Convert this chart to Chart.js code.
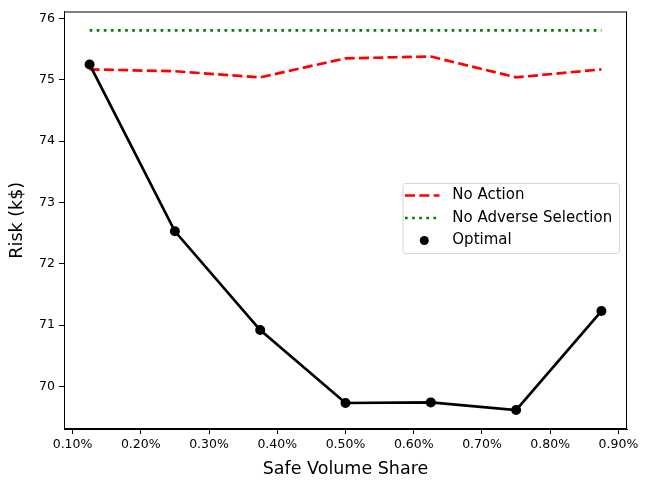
<!DOCTYPE html>
<html>
<head>
<meta charset="utf-8">
<script src="https://cdn.jsdelivr.net/npm/chart.js@4.4.1/dist/chart.umd.min.js"></script>
<style>
  html, body { margin: 0; padding: 0; background: #fff; }
  #wrap { width: 648px; height: 489px; position: relative; }
</style>
</head>
<body>
<div id="wrap"><canvas id="chart"></canvas></div>
<script>
// safe volume share (%) and risk (k$)
const shares = [0.125, 0.25, 0.375, 0.5, 0.625, 0.75, 0.875];
const noAction = [75.17, 75.14, 75.04, 75.35, 75.38, 75.04, 75.17];
const noAdverse = [75.805, 75.805, 75.805, 75.805, 75.805, 75.805, 75.805];
const optimal = [75.25, 72.53, 70.92, 69.73, 69.74, 69.615, 71.23];
const xTicks = [0.1, 0.2, 0.3, 0.4, 0.5, 0.6, 0.7, 0.8, 0.9];
const yTicks = [70, 71, 72, 73, 74, 75, 76];

const FONT = "'DejaVu Sans', 'Liberation Sans', sans-serif";
const pts = arr => arr.map((v, i) => ({x: shares[i], y: v}));

// matplotlib style legend box inside the plot
const legendBox = {
  id: 'legendBox',
  afterDraw(chart) {
    const ctx = chart.ctx;
    const x = 403, y = 183.5, w = 216.5, h = 70, r = 3;
    ctx.save();
    ctx.beginPath();
    ctx.moveTo(x + r, y);
    ctx.arcTo(x + w, y, x + w, y + h, r);
    ctx.arcTo(x + w, y + h, x, y + h, r);
    ctx.arcTo(x, y + h, x, y, r);
    ctx.arcTo(x, y, x + w, y, r);
    ctx.closePath();
    ctx.fillStyle = 'rgba(255,255,255,0.8)';
    ctx.fill();
    ctx.strokeStyle = '#d6d6d6';
    ctx.lineWidth = 1;
    ctx.stroke();

    const rows = [
      {label: 'No Action', color: '#ff0000', dash: [10, 4.3], y: 195.5},
      {label: 'No Adverse Selection', color: '#008000', dash: [2.7, 4.4], y: 218},
      {label: 'Optimal', color: '#000000', marker: true, y: 240.5}
    ];
    rows.forEach(row => {
      if (row.marker) {
        ctx.beginPath();
        ctx.arc(424.3, row.y, 4.5, 0, Math.PI * 2);
        ctx.fillStyle = row.color;
        ctx.fill();
      } else {
        ctx.beginPath();
        ctx.setLineDash(row.dash);
        ctx.lineCap = 'butt';
        ctx.strokeStyle = row.color;
        ctx.lineWidth = 2.7;
        ctx.moveTo(405, row.y);
        ctx.lineTo(439.5, row.y);
        ctx.stroke();
        ctx.setLineDash([]);
      }
      ctx.fillStyle = '#000';
      ctx.font = '15px ' + FONT;
      ctx.textBaseline = 'middle';
      ctx.textAlign = 'left';
      ctx.fillText(row.label, 452.3, row.y);
    });
    ctx.restore();
  }
};

new Chart(document.getElementById('chart').getContext('2d'), {
  type: 'line',
  data: {
    datasets: [
      {
        label: 'Optimal', data: pts(optimal), order: 0,
        borderColor: '#000', backgroundColor: '#000', borderWidth: 2.7,
        pointRadius: 5, pointHoverRadius: 5, pointBorderWidth: 0, tension: 0, fill: false
      },
      {
        label: 'No Action', data: pts(noAction), order: 1,
        borderColor: '#ff0000', borderWidth: 2.7, borderDash: [10, 4.3],
        pointRadius: 0, tension: 0, fill: false
      },
      {
        label: 'No Adverse Selection', data: pts(noAdverse), order: 2,
        borderColor: '#008000', borderWidth: 2.7, borderDash: [2.7, 4.4],
        pointRadius: 0, tension: 0, fill: false
      }
    ]
  },
  options: {
    responsive: true, maintainAspectRatio: false, animation: false,
    devicePixelRatio: 1,
    layout: {padding: {left: 0, right: 21, top: 9, bottom: 0}},
    scales: {
      x: {
        type: 'linear', min: 0.0875, max: 0.9125,
        afterBuildTicks: s => { s.ticks = xTicks.map(v => ({value: v})); },
        afterFit: s => { s.height = 60; },
        grid: {drawOnChartArea: false, drawTicks: true, tickLength: 5, color: '#000', tickColor: '#000'},
        border: {display: true, color: '#000', width: 1},
        ticks: {color: '#000', font: {family: FONT, size: 12.5}, padding: 3, maxRotation: 0,
                callback: v => v.toFixed(2) + '%'},
        title: {display: true, text: 'Safe Volume Share', color: '#000',
                font: {family: FONT, size: 17.5}, padding: {top: 0, bottom: 9}}
      },
      y: {
        type: 'linear', min: 69.306, max: 76.114,
        afterBuildTicks: s => { s.ticks = yTicks.map(v => ({value: v})); },
        afterFit: s => { s.width = 64; },
        grid: {drawOnChartArea: false, drawTicks: true, tickLength: 5, color: '#000', tickColor: '#000'},
        border: {display: true, color: '#000', width: 1},
        ticks: {color: '#000', font: {family: FONT, size: 12.5}, padding: 4,
                callback: v => String(v)},
        title: {display: true, text: 'Risk (k$)', color: '#000',
                font: {family: FONT, size: 17.5}, padding: {top: 7, bottom: 4}}
      }
    },
    plugins: {
      legend: {display: false},
      tooltip: {enabled: false}
    }
  },
  plugins: [
    legendBox,
    {
      id: 'frame',
      afterDatasetsDraw(chart) {
        const {ctx, chartArea: a} = chart;
        ctx.save();
        ctx.strokeStyle = '#000';
        ctx.lineWidth = 1;
        ctx.strokeRect(a.left + 0.5, a.top + 0.5, a.right - a.left - 1, a.bottom - a.top - 1);
        ctx.restore();
      }
    }
  ]
});
</script>
</body>
</html>
